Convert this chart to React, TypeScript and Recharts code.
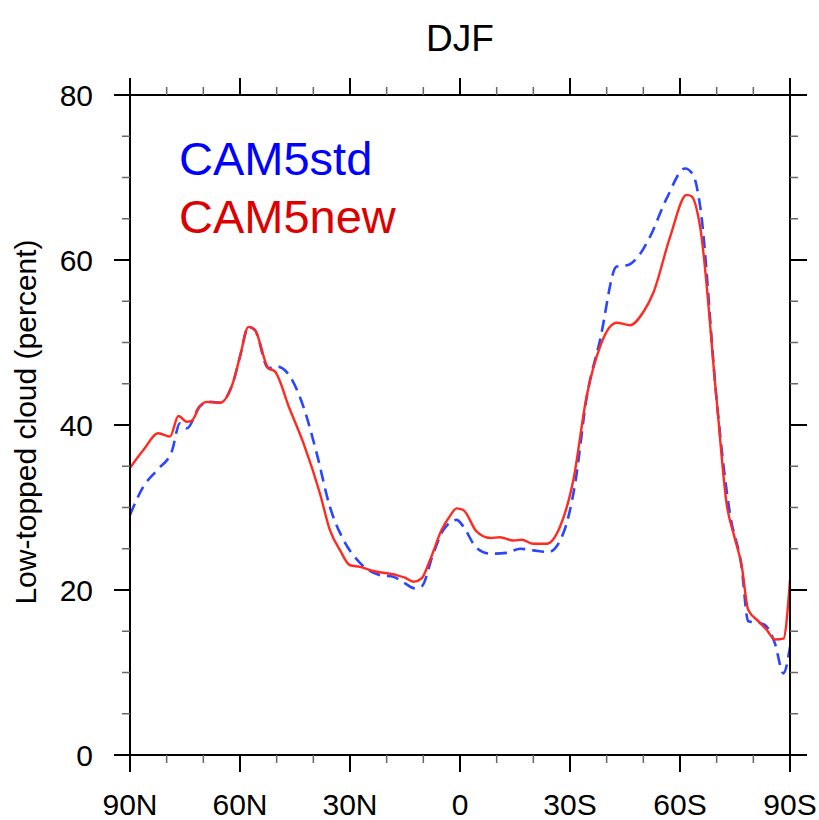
import { LineChart, Line, XAxis, YAxis, Legend } from 'recharts'

// latitude (deg, + = N) and low-topped cloud (%)
const newLat = [90, 86.3, 82.3, 79.1, 76.8, 74.5, 73.2, 70.9, 69.1, 65.5, 61.8, 60, 57.7, 55.9, 52.3, 50.5, 46.5, 42.7, 38.2, 35.5, 32.7, 30, 27.3, 23.6, 17.3, 15, 12.7, 10.5, 8.2, 5, 3, 0.9, -0.9, -4.5, -8.2, -10.9, -14.5, -16.8, -20, -23.6, -27.3, -30.9, -34.5, -38.2, -40.9, -42.7, -46.4, -50, -52.7, -57.3, -61.8, -63.2, -65.5, -70, -72.7, -74.8, -76.8, -78.6, -81.4, -83.6, -85.9, -88.2, -90]
const newVal = [34.8, 37.0, 39.0, 38.6, 41.1, 40.4, 40.5, 42.3, 42.8, 42.7, 45.3, 48.3, 51.9, 51.5, 46.9, 46.5, 42.0, 37.8, 31.7, 27.3, 24.8, 23.0, 22.8, 22.3, 21.8, 21.5, 21.0, 21.4, 23.6, 27.3, 28.8, 29.9, 29.7, 27.1, 26.3, 26.4, 26.0, 26.1, 25.6, 25.6, 27.7, 33.3, 43.4, 49.5, 51.9, 52.4, 52.1, 53.7, 56.0, 62.8, 67.9, 67.7, 64.0, 43.0, 30.5, 26.5, 23.0, 17.6, 16.2, 15.2, 14.0, 14.1, 21.2]

const stdLat = [90, 86.4, 82.7, 78.6, 76.4, 74.5, 70.9, 68.2, 65.5, 61.8, 60, 57.7, 55.9, 52.3, 50, 46.4, 42.7, 39.1, 35.5, 31.8, 27.3, 21.8, 18.2, 15, 12.3, 10.5, 7.3, 4.5, 0.9, -0.9, -4.5, -8.2, -12.7, -16.4, -20, -24.1, -28.2, -31.4, -34.5, -38.2, -42.7, -45.9, -48.2, -51.8, -56.4, -61.4, -63.6, -65.5, -70, -71.8, -73.6, -76.8, -78.6, -81.8, -83.6, -85.9, -88.2, -90]
const stdVal = [29.1, 32.5, 34.5, 36.8, 40.2, 39.6, 42.3, 42.8, 42.7, 45.3, 48.3, 51.9, 51.5, 46.9, 47.1, 45.9, 42.2, 36.6, 30.1, 26.1, 23.3, 21.8, 21.6, 20.8, 20.2, 20.4, 24.4, 27.3, 28.5, 27.7, 25.1, 24.4, 24.5, 25.0, 24.8, 24.6, 26.9, 32.9, 43.2, 50.3, 59.2, 59.4, 60.2, 62.8, 67.5, 71.1, 70.3, 66.5, 43.0, 35.3, 29.3, 22.8, 16.2, 16.0, 15.6, 13.5, 9.9, 13.1]

const latTicks = [90, 80, 70, 60, 50, 40, 30, 20, 10, 0, -10, -20, -30, -40, -50, -60, -70, -80, -90]
const valTicks = [0, 5, 10, 15, 20, 25, 30, 35, 40, 45, 50, 55, 60, 65, 70, 75, 80]

const FONT = '"Liberation Sans", Arial, Helvetica, sans-serif'

const newData = newLat.map((lat, i) => ({ lat, v: newVal[i] }))
const stdData = stdLat.map((lat, i) => ({ lat, v: stdVal[i] }))

function latLabel(v: number) {
  if (v === 0) return '0'
  return v > 0 ? `${v}N` : `${-v}S`
}

const tickStroke = (major: boolean) => (major ? '#000' : '#666')

function BottomTick(props: any) {
  const { x, y, payload } = props
  const major = payload.value % 30 === 0
  return (
    <g>
      <line x1={x} y1={y} x2={x} y2={y + (major ? 17 : 8)} stroke={tickStroke(major)} strokeWidth={major ? 2 : 1.5} />
      {major && (
        <text x={x} y={y + 60} textAnchor="middle" fontSize={30} fontFamily={FONT} fill="#000">
          {latLabel(payload.value)}
        </text>
      )}
    </g>
  )
}

function TopTick(props: any) {
  const { x, y, payload } = props
  const major = payload.value % 30 === 0
  return <line x1={x} y1={y} x2={x} y2={y - (major ? 17 : 8)} stroke={tickStroke(major)} strokeWidth={major ? 2 : 1.5} />
}

function LeftTick(props: any) {
  const { x, y, payload } = props
  const major = payload.value % 20 === 0
  return (
    <g>
      <line x1={x} y1={y} x2={x - (major ? 16 : 8)} y2={y} stroke={tickStroke(major)} strokeWidth={major ? 2 : 1.5} />
      {major && (
        <text x={x - 37} y={y + 11} textAnchor="end" fontSize={30} fontFamily={FONT} fill="#000">
          {payload.value}
        </text>
      )}
    </g>
  )
}

function RightTick(props: any) {
  const { x, y, payload } = props
  const major = payload.value % 20 === 0
  return <line x1={x} y1={y} x2={x + (major ? 17 : 8)} y2={y} stroke={tickStroke(major)} strokeWidth={major ? 2 : 1.5} />
}

function YTitle(props: any) {
  const { viewBox } = props
  const cy = viewBox.y + viewBox.height / 2 - 3
  return (
    <text transform={`translate(36,${cy}) rotate(-90)`} textAnchor="middle" fontSize={30} fontFamily={FONT} fill="#000">
      Low-topped cloud (percent)
    </text>
  )
}

function ModelLegend() {
  return (
    <div style={{ fontFamily: FONT, fontSize: 47, lineHeight: '58px' }}>
      <div style={{ color: '#0000ff' }}>CAM5std</div>
      <div style={{ color: '#dd0000' }}>CAM5new</div>
    </div>
  )
}

export default function App() {
  const axisLine = { stroke: '#000', strokeWidth: 2 }
  return (
    <div style={{ position: 'absolute', left: 0, top: 0, width: 819, height: 820, background: '#fff' }}>
      <div
        style={{
          position: 'absolute', left: 130, top: 20, width: 660, textAlign: 'center',
          fontFamily: FONT, fontSize: 37, lineHeight: '37px', color: '#000',
        }}
      >
        DJF
      </div>
      <LineChart width={819} height={820} margin={{ top: 75, right: 0, bottom: 0, left: 0 }}>
        <XAxis
          xAxisId="b" dataKey="lat" type="number" domain={[-90, 90]} reversed allowDataOverflow
          ticks={latTicks} interval={0} height={65} tickSize={0} tickMargin={0} tickLine={false}
          axisLine={axisLine} tick={<BottomTick />}
        />
        <XAxis
          xAxisId="t" orientation="top" dataKey="lat" type="number" domain={[-90, 90]} reversed allowDataOverflow
          ticks={latTicks} interval={0} height={20} tickSize={0} tickMargin={0} tickLine={false}
          axisLine={axisLine} tick={<TopTick />}
        />
        <YAxis
          yAxisId="l" type="number" domain={[0, 80]} allowDataOverflow ticks={valTicks} interval={0}
          width={130} tickSize={0} tickMargin={0} tickLine={false} axisLine={axisLine} tick={<LeftTick />}
          label={{ content: <YTitle /> }}
        />
        <YAxis
          yAxisId="r" orientation="right" type="number" domain={[0, 80]} allowDataOverflow ticks={valTicks} interval={0}
          width={29} tickSize={0} tickMargin={0} tickLine={false} axisLine={axisLine} tick={<RightTick />}
        />
        <Legend
          layout="vertical" align="center" verticalAlign="middle"
          wrapperStyle={{ top: 130, left: 179, width: 'auto' }}
          content={<ModelLegend />}
        />
        <Line
          xAxisId="b" yAxisId="l" data={stdData} dataKey="v" name="CAM5std" type="monotone"
          stroke="#2a46ff" strokeWidth={2.6} strokeDasharray="12 7" dot={false} activeDot={false}
          isAnimationActive={false}
        />
        <Line
          xAxisId="b" yAxisId="l" data={newData} dataKey="v" name="CAM5new" type="monotone"
          stroke="#ff2a20" strokeWidth={2.4} dot={false} activeDot={false} isAnimationActive={false}
        />
      </LineChart>
    </div>
  )
}
